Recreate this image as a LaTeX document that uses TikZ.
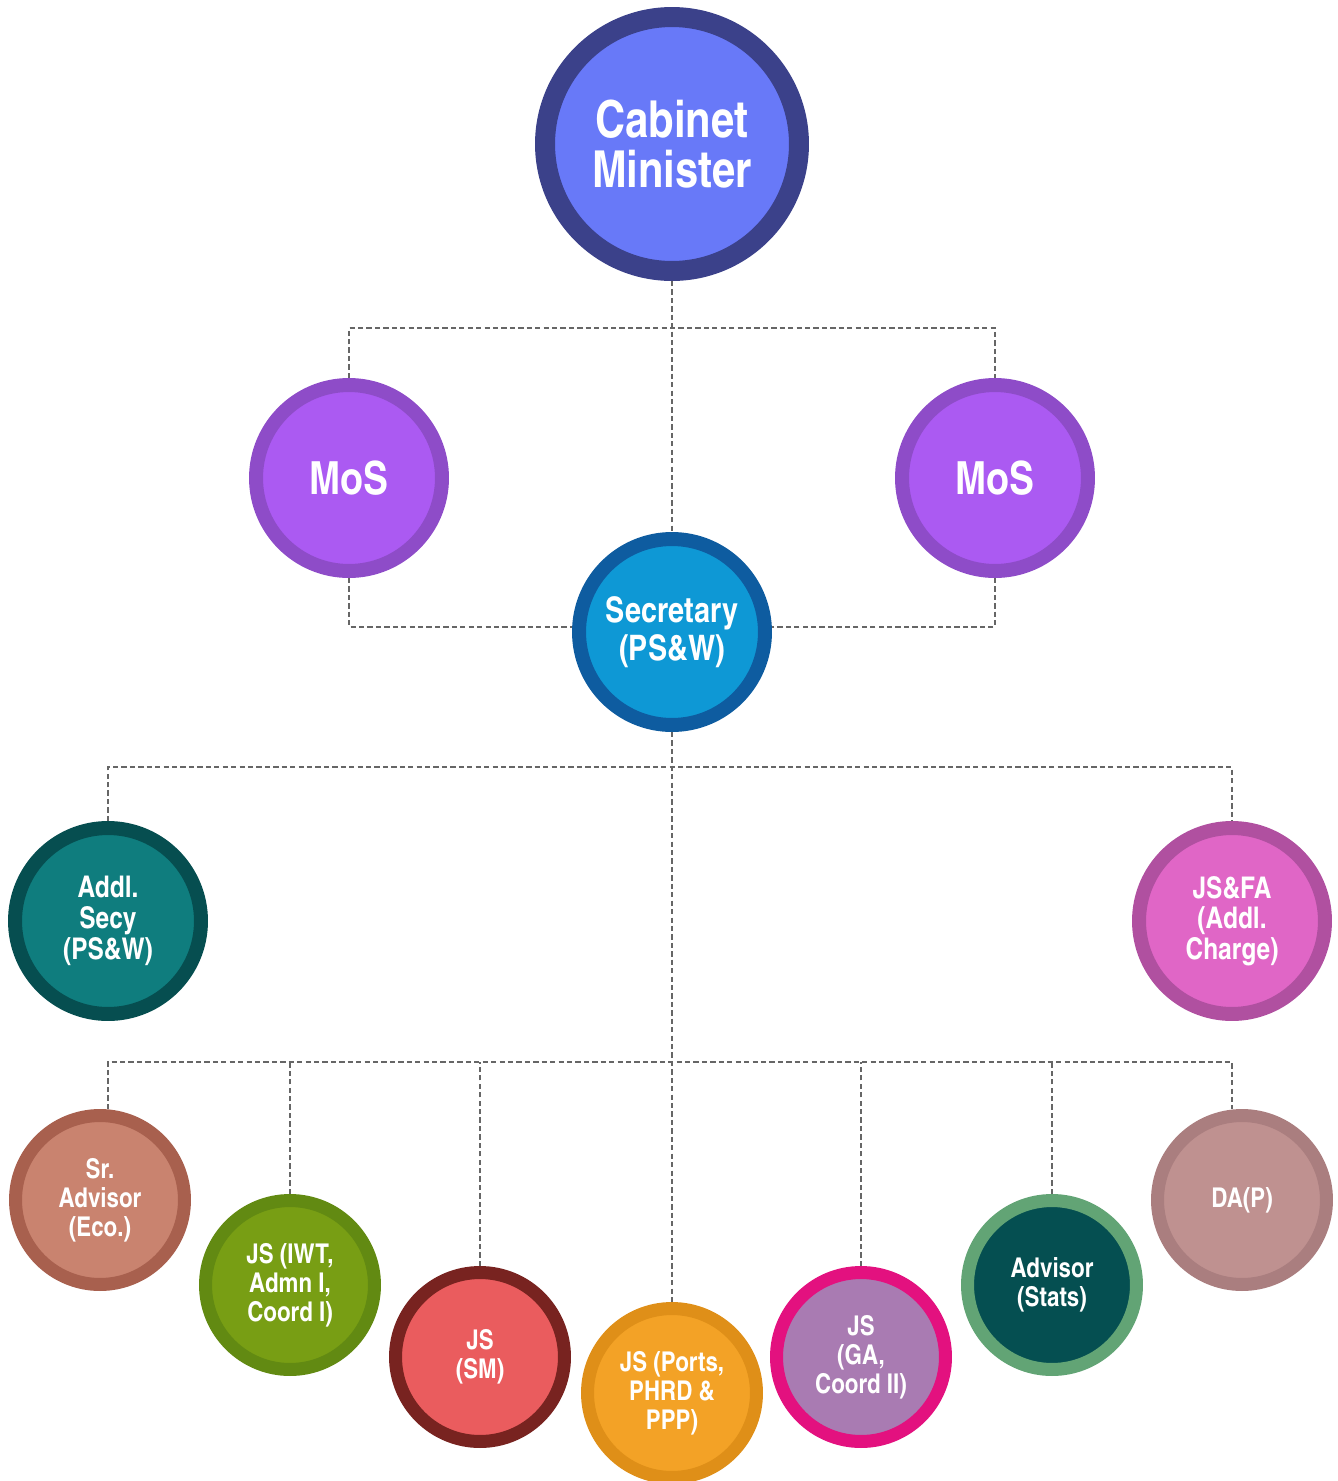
\documentclass[tikz,border=0pt]{standalone}
\usepackage{fontspec}
\newfontfamily\orgfont{texgyreheroscn-bold.otf}
\usetikzlibrary{positioning}
\definecolor{linkgray}{HTML}{666666}
\definecolor{cabring}{HTML}{3B418A}
\definecolor{cabfill}{HTML}{6879F8}
\definecolor{mosring}{HTML}{8E4CC8}
\definecolor{mosfill}{HTML}{AB5AF2}
\definecolor{secring}{HTML}{0E5CA0}
\definecolor{secfill}{HTML}{0E98D5}
\definecolor{addlring}{HTML}{064E50}
\definecolor{addlfill}{HTML}{0F7D7E}
\definecolor{fafill}{HTML}{E066C6}
\definecolor{faring}{HTML}{B050A0}
\definecolor{ecoring}{HTML}{A8604E}
\definecolor{ecofill}{HTML}{C9836F}
\definecolor{iwtring}{HTML}{628A12}
\definecolor{iwtfill}{HTML}{789E14}
\definecolor{smring}{HTML}{782320}
\definecolor{smfill}{HTML}{EA5C5E}
\definecolor{portring}{HTML}{DF8F18}
\definecolor{portfill}{HTML}{F3A226}
\definecolor{garing}{HTML}{E3117F}
\definecolor{gafill}{HTML}{A97BB2}
\definecolor{statring}{HTML}{62A475}
\definecolor{statfill}{HTML}{054F51}
\definecolor{dapring}{HTML}{AA7E7F}
\definecolor{dapfill}{HTML}{BF9190}

\begin{document}
\begin{tikzpicture}[x=0.02cm,y=-0.02cm,
 every node/.style={circle,inner sep=0pt,text=white,align=center},
 link/.style={draw=linkgray,line width=1.4pt,dash pattern=on 3pt off 1.8pt},
 topc/.style={minimum size=5.08cm,line width=0.4cm,font=\orgfont\fontsize{29}{28.5}\selectfont},
 midc/.style={minimum size=3.72cm,line width=0.28cm,font=\orgfont\fontsize{20}{21.5}\selectfont},
 lowc/.style={minimum size=3.38cm,line width=0.26cm,font=\orgfont\fontsize{15.5}{16.5}\selectfont}]
\useasboundingbox (0,0) rectangle (1338,1481);

% ministers
\node[topc,draw=cabring,fill=cabfill] (cab) at (672,144) {Cabinet\\Minister};
\node[midc,draw=mosring,fill=mosfill,font=\orgfont\fontsize{26}{26}\selectfont] (mosl) at (349,478) {MoS};
\node[midc,draw=mosring,fill=mosfill,font=\orgfont\fontsize{26}{26}\selectfont] (mosr) at (995,478) {MoS};
\node[midc,draw=secring,fill=secfill] (sec) at (672,632) {Secretary\\(PS\&W)};

% second level
\node[midc,draw=addlring,fill=addlfill,font=\orgfont\fontsize{17}{17.5}\selectfont] (addl) at (108,921) {Addl.\\Secy\\(PS\&W)};
\node[midc,draw=faring,fill=fafill,font=\orgfont\fontsize{17}{17.5}\selectfont] (jsfa) at (1232,921) {JS\&FA\\(Addl.\\Charge)};

% joint secretaries and advisors
\node[lowc,draw=ecoring,fill=ecofill] (eco) at (100,1200) {Sr.\\Advisor\\(Eco.)};
\node[lowc,draw=iwtring,fill=iwtfill] (iwt) at (290,1285) {JS (IWT,\\Admn I,\\Coord I)};
\node[lowc,draw=smring,fill=smfill] (sm) at (480,1357) {JS\\(SM)};
\node[lowc,draw=portring,fill=portfill] (ports) at (672,1393) {JS (Ports,\\PHRD \&\\PPP)};
\node[lowc,draw=garing,fill=gafill] (ga) at (861,1357) {JS\\(GA,\\Coord II)};
\node[lowc,draw=statring,fill=statfill] (stats) at (1052,1285) {Advisor\\(Stats)};
\node[lowc,draw=dapring,fill=dapfill] (dap) at (1242,1200) {DA(P)};

\coordinate (t1) at (672,328);
\coordinate (j1) at (672,767);
\coordinate (j2) at (672,1062);

% connectors
\draw[link] (cab.south) -- (sec.north);
\draw[link] (mosl.north) |- (t1) -| (mosr.north);
\draw[link] (mosl.south) |- ([yshift=0.1cm]sec.west);
\draw[link] (mosr.south) |- ([yshift=0.1cm]sec.east);
\draw[link] (sec.south) -- (ports.north);
\draw[link] (addl.north) |- (j1) -| (jsfa.north);
\draw[link] (eco.north -| addl) |- (j2) -| (dap.north -| jsfa);
\foreach \n in {iwt,sm,ga,stats}
 \draw[link] (\n.north) -- (\n.north |- j2);
\end{tikzpicture}
\end{document}
